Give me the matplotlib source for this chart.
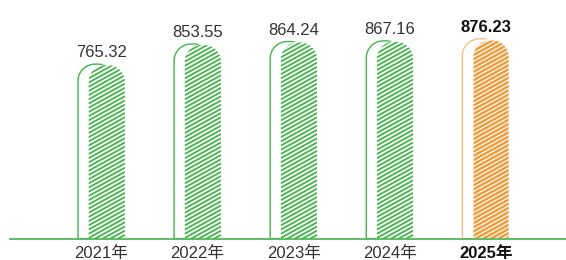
import numpy as np
import matplotlib.pyplot as plt
from matplotlib.path import Path
from matplotlib.patches import PathPatch
from matplotlib.collections import LineCollection

years = ["2021年", "2022年", "2023年", "2024年", "2025年"]
values = [765.32, 853.55, 864.24, 867.16, 876.23]
highlight = 4  # last year is drawn in orange / bold

green = "#42b54a"
orange = "#f09a38"
orange_light = "#f5bf86"

plt.rcParams['font.family'] = ['Liberation Sans', 'Noto Sans CJK SC', 'DejaVu Sans']

fig = plt.figure(figsize=(5.66, 2.6), dpi=100)
ax = fig.add_axes([10 / 566, 21 / 260, 556 / 566, 239 / 260])
ax.set_xlim(-0.952, 4.834)
ax.set_ylim(0, 1046)

# pixel -> data conversion for rounded corners and stripes
px_x = (4.834 + 0.952) / 556
px_y = 1046 / 239


def round_top(x0, w, h, r=17):
    rx, ry = r * px_x, r * px_y
    k = 0.5523
    verts = [(x0, 0), (x0, h - ry),
             (x0, h - ry + k * ry), (x0 + rx - k * rx, h), (x0 + rx, h),
             (x0 + w - rx, h),
             (x0 + w - rx + k * rx, h), (x0 + w, h - ry + k * ry), (x0 + w, h - ry),
             (x0 + w, 0), (x0, 0)]
    codes = [Path.MOVETO, Path.LINETO,
             Path.CURVE4, Path.CURVE4, Path.CURVE4,
             Path.LINETO,
             Path.CURVE4, Path.CURVE4, Path.CURVE4,
             Path.LINETO, Path.CLOSEPOLY]
    return Path(verts, codes)


def stripes(x0, w_px, h, color, patch, slope=0.55, gap=4.2, lw=1.1):
    h_px = h / px_y
    segs = []
    for off in np.arange(-w_px * slope, h_px + gap, gap):
        segs.append([(x0, off * px_y), (x0 + w_px * px_x, (off + slope * w_px) * px_y)])
    lc = LineCollection(segs, colors=color, linewidths=lw)
    ax.add_collection(lc)
    lc.set_clip_path(patch)


for i, v in enumerate(values):
    hl = i == highlight
    # outline bar, shifted left
    ax.add_patch(PathPatch(round_top(i - 23.5 * px_x, 37 * px_x, v),
                           facecolor="none", edgecolor=orange_light if hl else green, lw=1.0))
    # striped bar on top
    hx = i - 13 * px_x
    hh = v - 1 * px_y
    hp = PathPatch(round_top(hx, 36.5 * px_x, hh),
                   facecolor=orange if hl else "white", edgecolor="white", lw=1.0)
    ax.add_patch(hp)
    if hl:
        stripes(hx, 36.5, hh, "white", hp, lw=0.9)
    else:
        stripes(hx, 36.5, hh, green, hp, lw=1.3)

    ax.annotate(f"{v:.2f}", (i, v), xytext=(0, 5), textcoords="offset points",
                ha="center", va="baseline", fontsize=12,
                color="#111111" if hl else "#333333",
                fontweight="bold" if hl else "normal")

ax.set_xticks(range(len(years)))
ax.set_xticklabels(years, fontsize=12, color="#333333")
lab = ax.get_xticklabels()[highlight]
lab.set_fontweight("bold")
lab.set_color("#111111")
ax.tick_params(axis="x", length=0, pad=5)
ax.set_yticks([])
for s in ["top", "right", "left"]:
    ax.spines[s].set_visible(False)
ax.spines["bottom"].set_color(green)
ax.spines["bottom"].set_linewidth(1.2)

fig.savefig("out.png", dpi=100)
